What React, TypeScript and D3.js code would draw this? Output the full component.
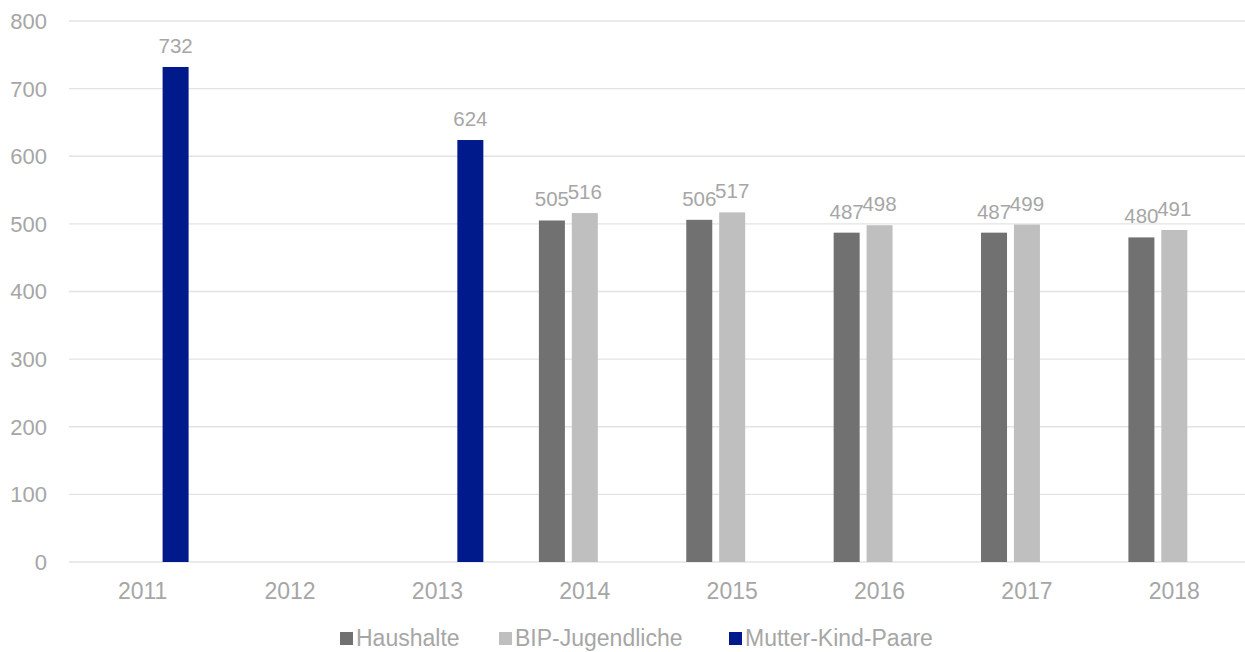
import React from "react";
import * as d3 from "d3";

const years = ["2011", "2012", "2013", "2014", "2015", "2016", "2017", "2018"];
const seriesNames = ["Haushalte", "BIP-Jugendliche", "Mutter-Kind-Paare"];
const seriesColors = ["#717171", "#BFBFBF", "#001A8C"];
const haushalte: (number | null)[] = [null, null, null, 505, 506, 487, 487, 480];
const bipJugendliche: (number | null)[] = [null, null, null, 516, 517, 498, 499, 491];
const mutterKind: (number | null)[] = [732, null, 624, null, null, null, null, null];
const yTicks = [0, 100, 200, 300, 400, 500, 600, 700, 800];

const W = 1245;
const H = 652;
const FONT = "'Liberation Sans', Arial, sans-serif";
const TEXT = "#A6A6A6";

export default function App() {
  const seriesValues = [haushalte, bipJugendliche, mutterKind];
  const x0 = d3.scaleBand<string>().domain(years).range([69, 1248]).paddingInner(0.33).paddingOuter(0.165);
  const x1 = d3.scaleBand<string>().domain(seriesNames).range([0, x0.bandwidth()]).paddingInner(0.21).paddingOuter(0.105);
  const y = d3.scaleLinear().domain([0, 800]).range([562, 21]);

  const legendX = [340, 499, 729];

  return (
    <svg width={W} height={H} style={{ position: "absolute", left: 0, top: 0, background: "#fff" }} fontFamily={FONT}>
      {yTicks.map((t) => (
        <g key={t}>
          <line x1={69} x2={1245} y1={y(t)} y2={y(t)} stroke="#E3E3E3" strokeWidth={1.3} />
          <text x={47} y={y(t)} dy="0.36em" textAnchor="end" fontSize={22} fill={TEXT}>{t}</text>
        </g>
      ))}
      {years.map((yr) => (
        <text key={yr} x={(x0(yr) as number) + x0.bandwidth() / 2} y={599} textAnchor="middle" fontSize={23} fill={TEXT}>{yr}</text>
      ))}
      {seriesValues.map((vals, si) =>
        vals.map((v, i) => {
          if (v == null) return null;
          const bx = (x0(years[i]) as number) + (x1(seriesNames[si]) as number);
          return (
            <g key={si + "-" + i}>
              <rect x={bx} y={y(v)} width={x1.bandwidth()} height={y(0) - y(v)} fill={seriesColors[si]} />
              <text x={bx + x1.bandwidth() / 2} y={y(v) - 14} textAnchor="middle" fontSize={20.5} fill={TEXT}>{v}</text>
            </g>
          );
        })
      )}
      {seriesNames.map((n, i) => (
        <g key={n}>
          <rect x={legendX[i]} y={632} width={13} height={13} fill={seriesColors[i]} />
          <text x={legendX[i] + 16} y={646} fontSize={23} fill={TEXT}>{n}</text>
        </g>
      ))}
    </svg>
  );
}
